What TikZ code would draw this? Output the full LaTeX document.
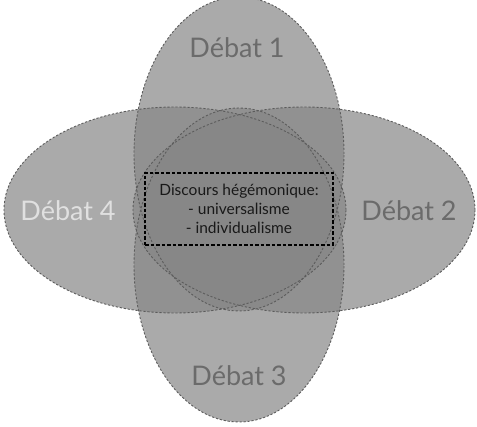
\documentclass[tikz,border=0pt]{standalone}
\usepackage{fontspec}
\setmainfont{Lato}
\usetikzlibrary{shapes.geometric}
\definecolor{ellfill}{gray}{0.53}
\definecolor{ellline}{gray}{0.36}
\definecolor{lbldark}{gray}{0.42}
\definecolor{lbllight}{gray}{0.88}
\definecolor{boxtext}{gray}{0.1}
\tikzset{
  ellfillstyle/.style={fill=ellfill, fill opacity=0.7},
  ellborder/.style={draw=ellline, line width=0.9pt, dash pattern=on 2.2pt off 1.8pt},
  debatlabel/.style={font=\fontsize{27}{30}\selectfont, inner sep=0pt},
  hegbox/.style={draw=black, line width=1.4pt, dash pattern=on 3.5pt off 2pt,
    minimum width=188pt, minimum height=72pt, align=center, inner sep=2pt,
    font=\fontsize{15.5}{19}\selectfont, text=boxtext}
}
\begin{document}
\begin{tikzpicture}[x=1pt,y=-1pt]
\useasboundingbox (0,0) rectangle (477,427);
\fill[white] (0,0) rectangle (477,427);
% centres of the four ellipses
\coordinate (c1) at (239,154);
\coordinate (c3) at (239,265);
\coordinate (c4) at (175,210);
\coordinate (c2) at (304,210);
% fills
\path[ellfillstyle] (c1) ellipse [x radius=105pt, y radius=157pt];
\path[ellfillstyle] (c3) ellipse [x radius=105pt, y radius=157pt];
\path[ellfillstyle] (c4) ellipse [x radius=171pt, y radius=103pt];
\path[ellfillstyle] (c2) ellipse [x radius=171pt, y radius=103pt];
% borders
\draw[ellborder] (c1) ellipse [x radius=105pt, y radius=157pt];
\draw[ellborder] (c3) ellipse [x radius=105pt, y radius=157pt];
\draw[ellborder] (c4) ellipse [x radius=171pt, y radius=103pt];
\draw[ellborder] (c2) ellipse [x radius=171pt, y radius=103pt];
% labels
\node[debatlabel, text=lbldark] (l1) at (237,48) {Débat 1};
\node[debatlabel, text=lbldark] (l2) at (409,211) {Débat 2};
\node[debatlabel, text=lbldark] (l3) at (239,376) {Débat 3};
\node[debatlabel, text=lbllight] (l4) at (68,211) {Débat 4};
% central box
\node[hegbox] (heg) at (239,209) {Discours hégémonique:\\- universalisme\\- individualisme};
\end{tikzpicture}
\end{document}
